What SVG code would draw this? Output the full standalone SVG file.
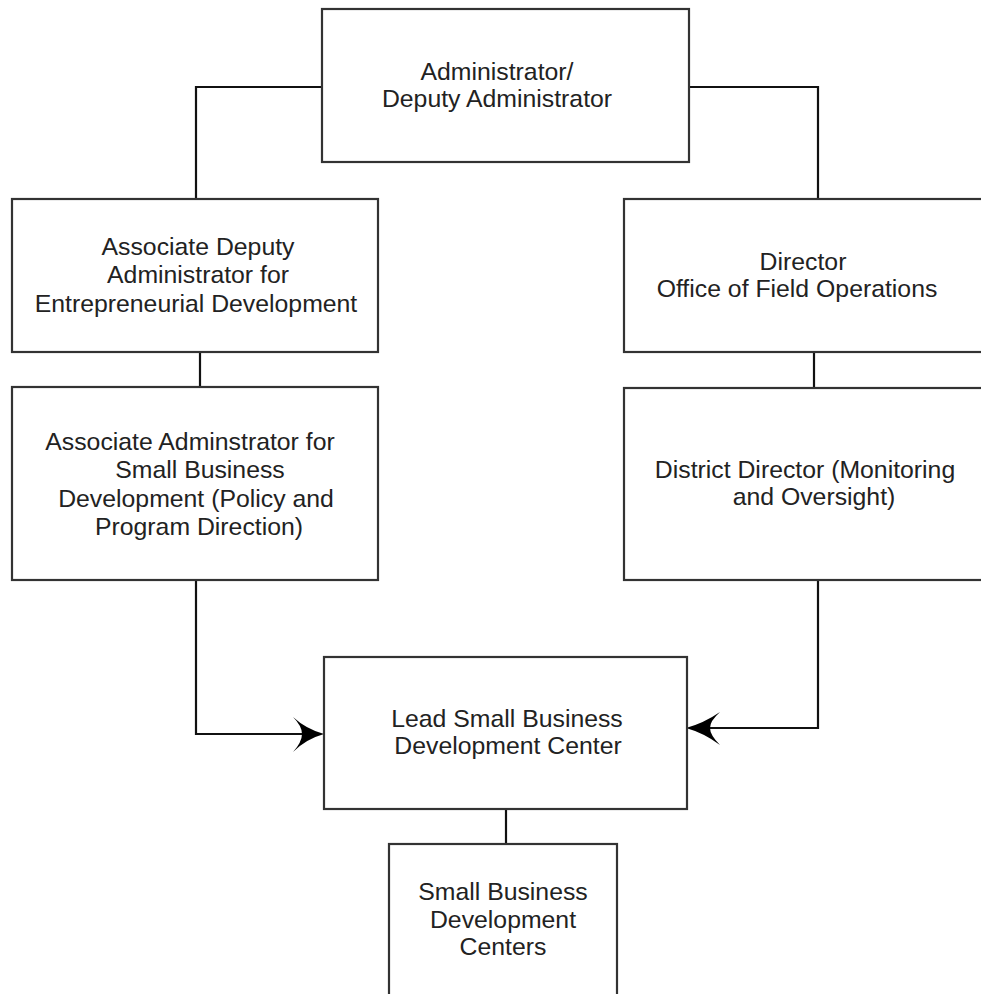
<svg xmlns="http://www.w3.org/2000/svg" width="981" height="994" viewBox="0 0 981 994">
<style>
.box{fill:#fff;stroke:#333;stroke-width:2.2}
.ln{fill:none;stroke:#111;stroke-width:2.2}
.ah{fill:#000;stroke:none}
text{font-family:"Liberation Sans",Arial,sans-serif;font-size:24.8px;fill:#222;text-anchor:middle}
</style>
<rect width="981" height="994" fill="#fff"/>
<g id="connectors">
<path class="ln" d="M322,87 H196 V199"/>
<path class="ln" d="M689,87 H818 V199"/>
<path class="ln" d="M200,352 V387"/>
<path class="ln" d="M814,352 V388"/>
<path class="ln" d="M196,580 V734 H310"/>
<path class="ln" d="M818,580 V728 H700"/>
<path class="ln" d="M506,809 V844"/>
<path class="ah" d="M324,734 Q306,739 293,752 Q302,742 302,734 Q302,726 293,717 Q306,729 324,734 Z"/>
<path class="ah" d="M686,728 Q704,723 720,712 Q710,721 710,728 Q710,735 720,745 Q704,733 686,728 Z"/>
</g>
<g id="admin">
<rect class="box" x="322" y="9" width="367" height="153"/>
<text x="497" y="80">Administrator/</text>
<text x="497" y="107">Deputy Administrator</text>
</g>
<g id="assoc-deputy">
<rect class="box" x="12" y="199" width="366" height="153"/>
<text x="198" y="255">Associate Deputy</text>
<text x="198" y="283">Administrator for</text>
<text x="196" y="312">Entrepreneurial Development</text>
</g>
<g id="assoc-admin">
<rect class="box" x="12" y="387" width="366" height="193"/>
<text x="190" y="450">Associate Adminstrator for</text>
<text x="200" y="478">Small Business</text>
<text x="196" y="507">Development (Policy and</text>
<text x="199" y="535">Program Direction)</text>
</g>
<g id="director-ofo">
<rect class="box" x="624" y="199" width="366" height="153"/>
<text x="803" y="270">Director</text>
<text x="797" y="297">Office of Field Operations</text>
</g>
<g id="district-director">
<rect class="box" x="624" y="388" width="366" height="192"/>
<text x="805" y="478">District Director (Monitoring</text>
<text x="814" y="505">and Oversight)</text>
</g>
<g id="lead-sbdc">
<rect class="box" x="324" y="657" width="363" height="152"/>
<text x="507" y="727">Lead Small Business</text>
<text x="508" y="754">Development Center</text>
</g>
<g id="sbdcs">
<rect class="box" x="389" y="844" width="228" height="170"/>
<text x="503" y="900">Small Business</text>
<text x="503" y="928">Development</text>
<text x="503" y="955">Centers</text>
</g>
</svg>
